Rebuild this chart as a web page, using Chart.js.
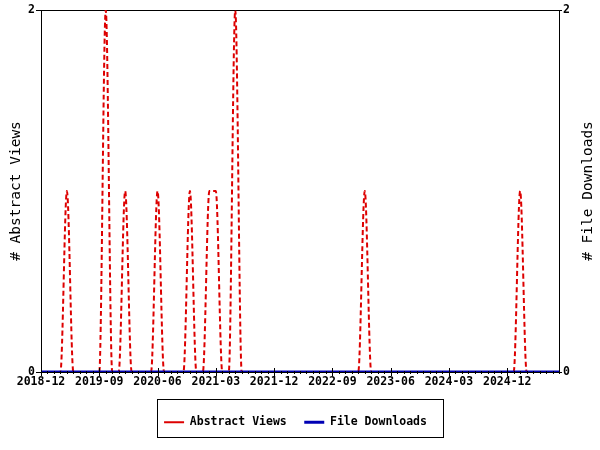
<!DOCTYPE html>
<html>
<head>
<meta charset="utf-8">
<script src="https://cdn.jsdelivr.net/npm/chart.js@4.4.1/dist/chart.umd.min.js"></script>
<style>
  html, body { margin: 0; padding: 0; background: #fff; }
  #wrap { width: 600px; height: 450px; }
</style>
</head>
<body>
<div id="wrap"><canvas id="statsChart" width="600" height="450"></canvas></div>
<script>
// --- data ---
const months = [
    '2018-12', '2019-01', '2019-02', '2019-03', '2019-04', '2019-05', '2019-06', '2019-07', '2019-08',
    '2019-09', '2019-10', '2019-11', '2019-12', '2020-01', '2020-02', '2020-03', '2020-04', '2020-05',
    '2020-06', '2020-07', '2020-08', '2020-09', '2020-10', '2020-11', '2020-12', '2021-01', '2021-02',
    '2021-03', '2021-04', '2021-05', '2021-06', '2021-07', '2021-08', '2021-09', '2021-10', '2021-11',
    '2021-12', '2022-01', '2022-02', '2022-03', '2022-04', '2022-05', '2022-06', '2022-07', '2022-08',
    '2022-09', '2022-10', '2022-11', '2022-12', '2023-01', '2023-02', '2023-03', '2023-04', '2023-05',
    '2023-06', '2023-07', '2023-08', '2023-09', '2023-10', '2023-11', '2023-12', '2024-01', '2024-02',
    '2024-03', '2024-04', '2024-05', '2024-06', '2024-07', '2024-08', '2024-09', '2024-10', '2024-11',
    '2024-12', '2025-01', '2025-02', '2025-03', '2025-04', '2025-05', '2025-06', '2025-07', '2025-08'
];
const abstractViews = [
    0, 0, 0, 0, 1, 0, 0, 0, 0,
    0, 2, 0, 0, 1, 0, 0, 0, 0,
    1, 0, 0, 0, 0, 1, 0, 0, 1,
    1, 0, 0, 2, 0, 0, 0, 0, 0,
    0, 0, 0, 0, 0, 0, 0, 0, 0,
    0, 0, 0, 0, 0, 1, 0, 0, 0,
    0, 0, 0, 0, 0, 0, 0, 0, 0,
    0, 0, 0, 0, 0, 0, 0, 0, 0,
    0, 0, 1, 0, 0, 0, 0, 0, 0
];
const fileDownloads = [
    0, 0, 0, 0, 0, 0, 0, 0, 0,
    0, 0, 0, 0, 0, 0, 0, 0, 0,
    0, 0, 0, 0, 0, 0, 0, 0, 0,
    0, 0, 0, 0, 0, 0, 0, 0, 0,
    0, 0, 0, 0, 0, 0, 0, 0, 0,
    0, 0, 0, 0, 0, 0, 0, 0, 0,
    0, 0, 0, 0, 0, 0, 0, 0, 0,
    0, 0, 0, 0, 0, 0, 0, 0, 0,
    0, 0, 0, 0, 0, 0, 0, 0, 0
];
const xTickLabels = ['2018-12', '2019-09', '2020-06', '2021-03', '2021-12', '2022-09', '2023-06', '2024-03', '2024-12'];
const yTickValues = [0, 2];

// --- look ---
const monoFont = "'DejaVu Sans Mono', monospace";
const tickFont = { family: monoFont, size: 11.5, weight: 'bold' };
const viewsColor = '#dd0000';
const downloadsColor = '#0000b4';

// frame round the plot area, drawn under the lines
const framePlugin = {
    id: 'frame',
    beforeDatasetsDraw(chart) {
        const { ctx, chartArea: a } = chart;
        ctx.save();
        ctx.strokeStyle = '#000';
        ctx.lineWidth = 1;
        ctx.strokeRect(Math.round(a.left) + 0.5, Math.round(a.top) + 0.5,
            Math.round(a.right - a.left), Math.round(a.bottom - a.top));
        ctx.restore();
    },
    afterDraw(chart) {
        const { ctx, chartArea: a } = chart;
        const xs = chart.scales.x;
        ctx.save();
        ctx.strokeStyle = '#000';
        ctx.lineWidth = 1;
        ctx.beginPath();
        xs.ticks.forEach((t, i) => {
            const px = Math.round(xs.getPixelForTick(i)) + 0.5;
            const major = xTickLabels.includes(months[i]);
            ctx.moveTo(px, a.bottom + (major ? -4 : -1));
            ctx.lineTo(px, a.bottom + (major ? 4 : 2));
        });
        ctx.stroke();

        // right axis title, reading upwards like the left one
        ctx.font = "14.5px " + monoFont;
        ctx.fillStyle = '#000';
        ctx.textAlign = 'center';
        ctx.textBaseline = 'middle';
        ctx.translate(588, (a.top + a.bottom) / 2);
        ctx.rotate(-Math.PI / 2);
        ctx.fillText('# File Downloads', 0, 0);
        ctx.restore();

        // box round the legend
        const lg = chart.legend;
        ctx.save();
        ctx.strokeStyle = '#000';
        ctx.lineWidth = 1;
        ctx.strokeRect(157.5, Math.round(lg.top) + 0.5, 286, Math.round(lg.height) - 1);
        ctx.restore();
    }
};

const ctx = document.getElementById('statsChart').getContext('2d');
new Chart(ctx, {
    type: 'line',
    data: {
        labels: months,
        datasets: [{
            label: 'Abstract Views',
            data: abstractViews,
            yAxisID: 'y',
            borderColor: viewsColor,
            backgroundColor: viewsColor,
            borderWidth: 2,
            borderDash: [5, 3],
            cubicInterpolationMode: 'monotone',
            pointRadius: 0,
            order: 1
        }, {
            label: 'File Downloads',
            data: fileDownloads,
            yAxisID: 'y2',
            borderColor: downloadsColor,
            backgroundColor: downloadsColor,
            borderWidth: 3,
            pointRadius: 0,
            order: 0
        }]
    },
    options: {
        responsive: false,
        animation: false,
        layout: { padding: { top: 10, bottom: 12, left: 0, right: 9 } },
        scales: {
            x: {
                type: 'category',
                offset: false,
                grid: { display: false, drawTicks: false },
                border: { display: false },
                ticks: {
                    autoSkip: false,
                    maxRotation: 0,
                    minRotation: 0,
                    padding: 3,
                    color: '#000',
                    font: tickFont,
                    callback: (v, i) => xTickLabels.includes(months[i]) ? months[i] : ''
                },
                afterFit: s => { s.height = 27; }
            },
            y: {
                position: 'left',
                min: 0,
                max: 2,
                afterBuildTicks: s => { s.ticks = yTickValues.map(v => ({ value: v })); },
                grid: { drawOnChartArea: false, drawTicks: true, tickLength: 5, tickColor: '#000' },
                border: { display: true, color: '#000', width: 1 },
                ticks: { color: '#000', font: tickFont, padding: 1 },
                title: {
                    display: true,
                    text: '# Abstract Views',
                    color: '#000',
                    font: { family: monoFont, size: 14.5 },
                    padding: { top: 8, bottom: 0 }
                },
                afterFit: s => { s.width = 41; }
            },
            y2: {
                position: 'right',
                min: 0,
                max: 2,
                afterBuildTicks: s => { s.ticks = yTickValues.map(v => ({ value: v })); },
                grid: { drawOnChartArea: false, drawTicks: true, tickLength: 3, tickColor: '#000' },
                border: { display: true, color: '#000', width: 1 },
                ticks: { color: '#000', font: tickFont, padding: 1 },
                afterFit: s => { s.width = 32; }
            }
        },
        plugins: {
            legend: {
                position: 'bottom',
                labels: {
                    usePointStyle: true,
                    pointStyle: 'line',
                    pointStyleWidth: 20,
                    padding: 17.5,
                    color: '#000',
                    font: tickFont,
                    sort: (a, b) => a.datasetIndex - b.datasetIndex
                }
            },
            tooltip: { enabled: false }
        }
    },
    plugins: [framePlugin]
});
</script>
</body>
</html>
